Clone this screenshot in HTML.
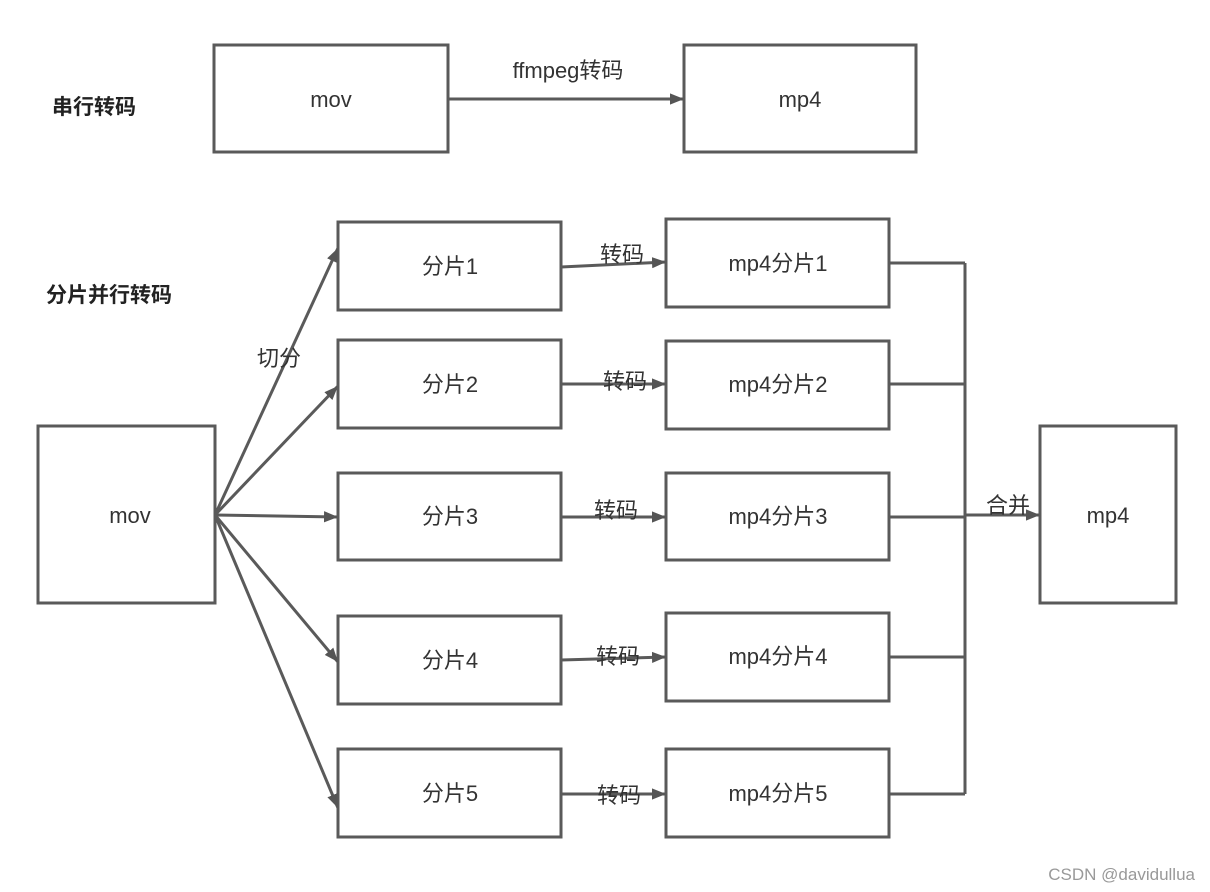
<!DOCTYPE html>
<html><head><meta charset="utf-8"><style>
body{margin:0;background:#fff;}
svg{display:block;font-family:"Liberation Sans","Noto Sans CJK SC",sans-serif;}
</style></head><body>
<svg width="1210" height="892" viewBox="0 0 1210 892" xmlns="http://www.w3.org/2000/svg">
<defs><marker id="a" markerWidth="10" markerHeight="10" refX="9" refY="5" orient="auto" markerUnits="userSpaceOnUse"><path d="M0,0 L10,5 L0,10 z" fill="#555" transform="scale(1.4) translate(-3,-1.4)"/></marker>
<marker id="b" viewBox="0 0 10 10" markerWidth="14" markerHeight="14" refX="10" refY="5" orient="auto" markerUnits="userSpaceOnUse"><path d="M0,1 L10,5 L0,9 z" fill="#555"/></marker></defs>
<g fill="none" stroke="#5a5a5a" stroke-width="3">
<rect x="214" y="45" width="234" height="107"/>
<rect x="684" y="45" width="232" height="107"/>
<rect x="38" y="426" width="177" height="177"/>
<rect x="338" y="222" width="223" height="88"/>
<rect x="338" y="340" width="223" height="88"/>
<rect x="338" y="473" width="223" height="87"/>
<rect x="338" y="616" width="223" height="88"/>
<rect x="338" y="749" width="223" height="88"/>
<rect x="666" y="219" width="223" height="88"/>
<rect x="666" y="341" width="223" height="88"/>
<rect x="666" y="473" width="223" height="87"/>
<rect x="666" y="613" width="223" height="88"/>
<rect x="666" y="749" width="223" height="88"/>
<rect x="1040" y="426" width="136" height="177"/>
<path d="M965,263 V794 M889,263 H965 M889,384 H965 M889,517 H965 M889,657 H965 M889,794 H965"/>
</g>
<g stroke="#5a5a5a" stroke-width="3" marker-end="url(#b)">
<line x1="448" y1="99" x2="684" y2="99"/>
<line x1="215" y1="515" x2="338" y2="248"/>
<line x1="215" y1="515" x2="338" y2="386"/>
<line x1="215" y1="515" x2="338" y2="517"/>
<line x1="215" y1="515" x2="338" y2="662"/>
<line x1="215" y1="515" x2="338" y2="808"/>
<line x1="561" y1="267" x2="666" y2="262"/>
<line x1="561" y1="384" x2="666" y2="384"/>
<line x1="561" y1="517" x2="666" y2="517"/>
<line x1="561" y1="660" x2="666" y2="657"/>
<line x1="561" y1="794" x2="666" y2="794"/>
<line x1="965" y1="515" x2="1040" y2="515"/>
</g>
<g fill="#333" font-size="22" text-anchor="middle">
<text x="331" y="107">mov</text>
<text x="800" y="107">mp4</text>
<text x="568" y="78">ffmpeg转码</text>
<text x="130" y="523">mov</text>
<text x="450" y="274">分片1</text>
<text x="450" y="392">分片2</text>
<text x="450" y="524">分片3</text>
<text x="450" y="668">分片4</text>
<text x="450" y="801">分片5</text>
<text x="778" y="271">mp4分片1</text>
<text x="778" y="392">mp4分片2</text>
<text x="778" y="524">mp4分片3</text>
<text x="778" y="664">mp4分片4</text>
<text x="778" y="801">mp4分片5</text>
<text x="1108" y="523">mp4</text>
<text x="622" y="262">转码</text>
<text x="625" y="389">转码</text>
<text x="616" y="518">转码</text>
<text x="618" y="664">转码</text>
<text x="619" y="803">转码</text>
<text x="279" y="366">切分</text>
<text x="1008" y="513">合并</text>
</g>
<g fill="#222" font-size="21" font-weight="bold">
<text x="52" y="114">串行转码</text>
<text x="46" y="302">分片并行转码</text>
</g>
<text x="1195" y="880" text-anchor="end" fill="#999" font-size="17">CSDN @davidullua</text>
</svg>
</body></html>
